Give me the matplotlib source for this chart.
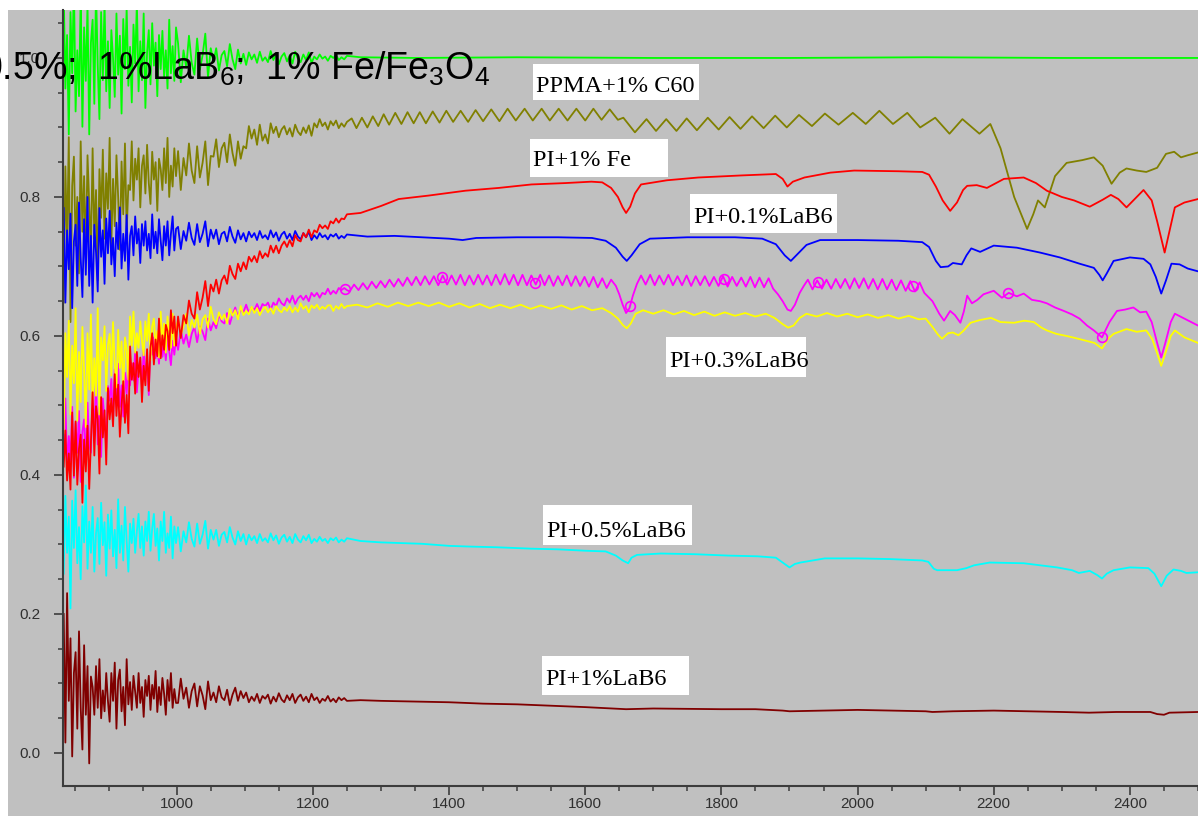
import numpy as np
import matplotlib
matplotlib.use("Agg")
import matplotlib.pyplot as plt
from matplotlib.patches import Rectangle
from matplotlib.ticker import MultipleLocator, FixedLocator, FormatStrFormatter

# ---------------------------------------------------------------- data
# Noisy start of every scan: segment A sampled every 2.5 nm, segment B every 4 nm
SEG_A = (834, 999)
SEG_B = (1002, 1250)

GREEN_A = [
    1.099, 0.956, 1.033, 0.890, 1.066, 0.978, 1.110, 0.923, 1.011, 0.945,
    1.088, 0.901, 1.044, 0.967, 1.077, 0.890, 1.022, 1.055, 0.934, 1.099,
    0.989, 0.912, 1.066, 0.968, 1.080, 0.952, 1.024, 0.928, 1.040, 1.000,
    0.944, 1.064, 0.976, 1.032, 0.920, 1.056, 0.984, 1.072, 0.960, 1.016,
    0.936, 1.048, 0.992, 1.080, 0.952, 1.024, 0.968, 1.064, 0.928, 1.008,
    1.040, 0.962, 1.050, 0.989, 1.022, 0.945, 1.033, 0.984, 1.039, 0.973,
    1.011, 0.956, 1.055, 0.978, 1.017, 0.967, 1.044]
GREEN_B = [
    1.021, 0.965, 1.011, 0.986, 1.032, 0.993, 0.976, 1.028, 0.983, 1.004,
    1.035, 0.972, 1.014, 0.994, 1.014, 0.982, 1.004, 1.010, 0.988, 1.020,
    0.998, 0.984, 1.012, 0.992, 1.006, 0.990, 1.008, 0.998, 1.005, 0.993,
    1.009, 0.996, 1.001, 0.994, 1.010, 0.997, 1.006, 0.991, 1.002, 1.007,
    0.995, 1.004, 0.992, 1.009, 0.999, 0.994, 1.005, 0.997, 1.008, 0.993,
    1.002, 0.998, 1.005, 0.999, 1.002, 0.996, 1.003, 1.000, 1.004, 0.997,
    1.001, 0.998, 1.003]
GREEN_TAIL = [(1270, 1.001), (1350, 1.0), (1500, 1.001), (1700, 1.0),
              (1900, 1.0), (2100, 1.001), (2300, 1.0), (2500, 1.0)]

OLIVE_A = [
    0.648, 0.844, 0.732, 0.886, 0.620, 0.816, 0.858, 0.730, 0.800, 0.690,
    0.880, 0.750, 0.830, 0.710, 0.860, 0.790, 0.720, 0.870, 0.740, 0.810,
    0.680, 0.840, 0.770, 0.868, 0.740, 0.834, 0.783, 0.885, 0.732, 0.826,
    0.758, 0.860, 0.800, 0.724, 0.851, 0.775, 0.877, 0.749, 0.817, 0.810,
    0.880, 0.795, 0.855, 0.825, 0.870, 0.785, 0.845, 0.860, 0.805, 0.875,
    0.820, 0.790, 0.865, 0.825, 0.850, 0.780, 0.855, 0.840, 0.810, 0.870,
    0.820, 0.885, 0.800, 0.845, 0.815, 0.870, 0.830]
OLIVE_B = [
    0.866, 0.810, 0.856, 0.831, 0.877, 0.838, 0.820, 0.873, 0.828, 0.849,
    0.880, 0.817, 0.859, 0.858, 0.883, 0.843, 0.870, 0.878, 0.850, 0.890,
    0.863, 0.845, 0.880, 0.855, 0.873, 0.870, 0.902, 0.884, 0.897, 0.875,
    0.904, 0.881, 0.890, 0.877, 0.906, 0.892, 0.901, 0.886, 0.897, 0.902,
    0.890, 0.899, 0.887, 0.904, 0.894, 0.889, 0.900, 0.892, 0.903, 0.888,
    0.906, 0.900, 0.912, 0.902, 0.907, 0.897, 0.909, 0.903, 0.910, 0.899,
    0.906, 0.901, 0.908]
OLIVE_TAIL = [
    (1257, 0.913), (1264, 0.899), (1272, 0.914), (1280, 0.900), (1288, 0.916),
    (1296, 0.902), (1304, 0.919), (1312, 0.904), (1321, 0.921), (1330, 0.905),
    (1339, 0.922), (1348, 0.906), (1357, 0.922), (1366, 0.906), (1376, 0.923),
    (1386, 0.907), (1396, 0.924), (1406, 0.908), (1417, 0.924), (1428, 0.908),
    (1439, 0.925), (1450, 0.909), (1462, 0.926), (1474, 0.909), (1486, 0.927),
    (1498, 0.910), (1511, 0.927), (1523, 0.910), (1536, 0.927), (1548, 0.910),
    (1561, 0.927), (1574, 0.910), (1587, 0.927), (1600, 0.910), (1612, 0.927),
    (1624, 0.911), (1636, 0.926), (1648, 0.911), (1656, 0.914), (1673, 0.893),
    (1690, 0.912), (1704, 0.895), (1719, 0.912), (1734, 0.895), (1749, 0.913),
    (1764, 0.896), (1780, 0.914), (1796, 0.897), (1812, 0.915), (1828, 0.898),
    (1845, 0.916), (1862, 0.899), (1879, 0.917), (1896, 0.900), (1914, 0.918),
    (1933, 0.902), (1952, 0.920), (1972, 0.904), (1993, 0.921), (2012, 0.905),
    (2032, 0.924), (2052, 0.905), (2073, 0.921), (2092, 0.900), (2114, 0.914),
    (2135, 0.891), (2154, 0.912), (2179, 0.891), (2195, 0.905), (2210, 0.870),
    (2230, 0.800), (2249, 0.754), (2258, 0.775), (2265, 0.795), (2275, 0.785),
    (2290, 0.830), (2307, 0.849), (2330, 0.853), (2347, 0.857), (2360, 0.845),
    (2373, 0.819), (2385, 0.835), (2395, 0.841), (2410, 0.838), (2424, 0.836),
    (2440, 0.842), (2453, 0.862), (2465, 0.865), (2475, 0.857), (2485, 0.860),
    (2500, 0.864)]

BLUE_A = [
    0.784, 0.648, 0.752, 0.696, 0.776, 0.640, 0.736, 0.760, 0.672, 0.792,
    0.712, 0.656, 0.768, 0.688, 0.800, 0.672, 0.744, 0.648, 0.760, 0.720,
    0.664, 0.784, 0.714, 0.752, 0.675, 0.769, 0.719, 0.780, 0.703, 0.741,
    0.686, 0.763, 0.725, 0.785, 0.697, 0.747, 0.708, 0.774, 0.681, 0.744,
    0.758, 0.716, 0.772, 0.733, 0.754, 0.705, 0.761, 0.730, 0.765, 0.723,
    0.747, 0.712, 0.775, 0.726, 0.750, 0.719, 0.768, 0.737, 0.709, 0.758,
    0.730, 0.765, 0.716, 0.747, 0.772, 0.723, 0.754]
BLUE_B = [
    0.757, 0.725, 0.751, 0.737, 0.763, 0.741, 0.731, 0.761, 0.735, 0.747,
    0.765, 0.729, 0.753, 0.740, 0.753, 0.732, 0.747, 0.750, 0.736, 0.757,
    0.743, 0.734, 0.752, 0.739, 0.748, 0.736, 0.750, 0.742, 0.748, 0.738,
    0.751, 0.741, 0.745, 0.739, 0.752, 0.742, 0.749, 0.737, 0.746, 0.750,
    0.740, 0.747, 0.738, 0.751, 0.743, 0.739, 0.748, 0.742, 0.750, 0.738,
    0.745, 0.740, 0.748, 0.742, 0.745, 0.739, 0.746, 0.743, 0.747, 0.740,
    0.744, 0.741, 0.746]
BLUE_TAIL = [
    (1280, 0.743), (1320, 0.744), (1360, 0.742), (1400, 0.740), (1420, 0.738),
    (1440, 0.741), (1500, 0.742), (1560, 0.742), (1610, 0.741), (1630, 0.737),
    (1645, 0.727), (1655, 0.714), (1661, 0.708), (1668, 0.716), (1680, 0.732),
    (1695, 0.740), (1750, 0.742), (1820, 0.742), (1860, 0.740), (1880, 0.732),
    (1893, 0.716), (1902, 0.708), (1910, 0.716), (1925, 0.731), (1945, 0.738),
    (2000, 0.738), (2060, 0.737), (2095, 0.735), (2105, 0.728), (2115, 0.708),
    (2122, 0.699), (2133, 0.700), (2140, 0.705), (2147, 0.704), (2153, 0.703),
    (2160, 0.716), (2167, 0.726), (2180, 0.721), (2200, 0.730), (2234, 0.727),
    (2268, 0.720), (2297, 0.713), (2326, 0.704), (2347, 0.698), (2355, 0.688),
    (2360, 0.680), (2366, 0.690), (2376, 0.708), (2400, 0.713), (2420, 0.711),
    (2430, 0.703), (2438, 0.685), (2446, 0.661), (2453, 0.680), (2461, 0.704),
    (2473, 0.703), (2485, 0.697), (2500, 0.693)]

RED_A = [
    0.412, 0.464, 0.392, 0.431, 0.379, 0.490, 0.399, 0.477, 0.386, 0.438,
    0.458, 0.360, 0.451, 0.405, 0.471, 0.380, 0.447, 0.519, 0.428, 0.499,
    0.480, 0.402, 0.512, 0.454, 0.493, 0.415, 0.525, 0.480, 0.510, 0.470,
    0.545, 0.485, 0.530, 0.455, 0.500, 0.535, 0.475, 0.515, 0.460, 0.585,
    0.537, 0.561, 0.517, 0.577, 0.541, 0.569, 0.505, 0.557, 0.529, 0.581,
    0.521, 0.583, 0.604, 0.559, 0.595, 0.571, 0.625, 0.568, 0.601, 0.580,
    0.616, 0.607, 0.580, 0.637, 0.604, 0.628, 0.586]
RED_B = [
    0.628, 0.597, 0.630, 0.618, 0.651, 0.632, 0.625, 0.663, 0.638, 0.655,
    0.679, 0.643, 0.674, 0.664, 0.681, 0.661, 0.680, 0.687, 0.675, 0.701,
    0.689, 0.682, 0.704, 0.693, 0.706, 0.696, 0.714, 0.707, 0.715, 0.706,
    0.722, 0.712, 0.719, 0.714, 0.730, 0.720, 0.730, 0.719, 0.730, 0.736,
    0.728, 0.738, 0.729, 0.745, 0.738, 0.736, 0.748, 0.742, 0.753, 0.742,
    0.752, 0.749, 0.760, 0.755, 0.759, 0.754, 0.765, 0.762, 0.769, 0.763,
    0.769, 0.768, 0.775]
RED_TAIL = [
    (1270, 0.777), (1300, 0.787), (1326, 0.797), (1370, 0.802), (1424, 0.809),
    (1473, 0.813), (1521, 0.818), (1571, 0.820), (1609, 0.822), (1625, 0.821),
    (1638, 0.813), (1648, 0.800), (1655, 0.785), (1660, 0.777), (1666, 0.786),
    (1673, 0.805), (1682, 0.818), (1720, 0.824), (1766, 0.828), (1830, 0.831),
    (1880, 0.833), (1890, 0.826), (1897, 0.815), (1905, 0.822), (1922, 0.828),
    (1960, 0.835), (1995, 0.838), (2060, 0.837), (2095, 0.836), (2105, 0.832),
    (2115, 0.815), (2125, 0.795), (2136, 0.780), (2146, 0.792), (2155, 0.810),
    (2161, 0.816), (2175, 0.817), (2190, 0.813), (2215, 0.826), (2244, 0.828),
    (2262, 0.820), (2278, 0.809), (2300, 0.800), (2318, 0.795), (2341, 0.786),
    (2360, 0.796), (2372, 0.803), (2383, 0.797), (2395, 0.785), (2410, 0.800),
    (2420, 0.810), (2432, 0.795), (2440, 0.765), (2451, 0.720), (2458, 0.750),
    (2466, 0.785), (2480, 0.792), (2500, 0.797)]

MAGENTA_A = [
    0.438, 0.510, 0.408, 0.456, 0.420, 0.498, 0.396, 0.474, 0.432, 0.492,
    0.390, 0.462, 0.480, 0.414, 0.504, 0.444, 0.432, 0.516, 0.456, 0.540,
    0.444, 0.498, 0.426, 0.510, 0.480, 0.438, 0.528, 0.507, 0.538, 0.475,
    0.552, 0.511, 0.560, 0.498, 0.529, 0.484, 0.547, 0.516, 0.565, 0.529,
    0.561, 0.536, 0.578, 0.519, 0.554, 0.568, 0.526, 0.582, 0.543, 0.564,
    0.515, 0.595, 0.573, 0.598, 0.568, 0.585, 0.560, 0.605, 0.570, 0.588,
    0.565, 0.600, 0.578, 0.558, 0.593, 0.573, 0.598]
MAGENTA_B = [
    0.580, 0.608, 0.589, 0.602, 0.584, 0.603, 0.613, 0.591, 0.614, 0.606,
    0.594, 0.625, 0.608, 0.620, 0.611, 0.631, 0.621, 0.618, 0.633, 0.617,
    0.631, 0.641, 0.627, 0.639, 0.634, 0.645, 0.633, 0.641, 0.637, 0.646,
    0.636, 0.646, 0.643, 0.648, 0.638, 0.648, 0.643, 0.654, 0.647, 0.644,
    0.654, 0.648, 0.658, 0.646, 0.654, 0.658, 0.652, 0.658, 0.650, 0.662,
    0.657, 0.662, 0.655, 0.662, 0.660, 0.668, 0.660, 0.665, 0.661, 0.669,
    0.666, 0.669, 0.666]
# interference fringes, evenly sampled between the given wavelengths
MAGENTA_FRINGE_1 = (1254, 1638, [
    0.664, 0.674, 0.666, 0.676, 0.667, 0.678, 0.669, 0.679, 0.670, 0.681,
    0.671, 0.682, 0.672, 0.684, 0.673, 0.685, 0.673, 0.686, 0.674, 0.686,
    0.673, 0.687, 0.674, 0.687, 0.674, 0.688, 0.673, 0.687, 0.674, 0.688,
    0.674, 0.687, 0.673, 0.688, 0.674, 0.689, 0.674, 0.688, 0.673, 0.688,
    0.673, 0.687, 0.674, 0.688, 0.673, 0.687, 0.672, 0.686, 0.673, 0.687,
    0.672, 0.686, 0.672, 0.685, 0.671, 0.685, 0.670, 0.683, 0.669, 0.681])
MAGENTA_DIP_1 = [(1645, 0.672), (1650, 0.660), (1655, 0.645), (1660, 0.633),
                 (1665, 0.640), (1670, 0.658), (1676, 0.675)]
MAGENTA_FRINGE_2 = (1682, 1876, [
    0.687, 0.674, 0.688, 0.673, 0.687, 0.674, 0.688, 0.673, 0.686, 0.673,
    0.687, 0.672, 0.686, 0.673, 0.686, 0.672, 0.685, 0.672, 0.686, 0.671,
    0.685, 0.672, 0.684, 0.671, 0.685, 0.670, 0.684, 0.670, 0.683, 0.668])
MAGENTA_DIP_2 = [(1883, 0.660), (1890, 0.650), (1897, 0.638), (1902, 0.636),
                 (1908, 0.645), (1915, 0.662), (1921, 0.672)]
MAGENTA_FRINGE_3 = (1927, 2098, [
    0.681, 0.667, 0.680, 0.668, 0.681, 0.668, 0.682, 0.669, 0.682, 0.668,
    0.683, 0.669, 0.683, 0.668, 0.682, 0.667, 0.682, 0.667, 0.681, 0.666,
    0.680, 0.665, 0.679, 0.664, 0.677, 0.662])
MAGENTA_TAIL = [
    (2110, 0.650), (2120, 0.632), (2127, 0.622), (2136, 0.636), (2143, 0.630),
    (2151, 0.619), (2156, 0.635), (2161, 0.658), (2168, 0.647), (2176, 0.652),
    (2185, 0.660), (2200, 0.665), (2212, 0.655), (2222, 0.662), (2234, 0.657),
    (2244, 0.661), (2256, 0.652), (2268, 0.650), (2278, 0.647), (2290, 0.641),
    (2303, 0.636), (2315, 0.631), (2326, 0.625), (2337, 0.615), (2347, 0.608),
    (2359, 0.598), (2370, 0.620), (2381, 0.636), (2393, 0.638), (2405, 0.641),
    (2415, 0.634), (2424, 0.635), (2432, 0.620), (2440, 0.590), (2446, 0.569),
    (2452, 0.590), (2460, 0.620), (2466, 0.632), (2480, 0.625), (2500, 0.615)]
MAGENTA_MARKER_X = [1247, 1390, 1526, 1666, 1804, 1942, 2081, 2221, 2359]

YELLOW_A = [
    0.460, 0.604, 0.541, 0.622, 0.487, 0.586, 0.532, 0.640, 0.478, 0.577,
    0.505, 0.613, 0.550, 0.469, 0.604, 0.523, 0.631, 0.496, 0.568, 0.514,
    0.640, 0.487, 0.598, 0.565, 0.614, 0.521, 0.587, 0.603, 0.543, 0.620,
    0.559, 0.526, 0.609, 0.554, 0.592, 0.515, 0.598, 0.581, 0.537, 0.628,
    0.586, 0.635, 0.576, 0.604, 0.583, 0.621, 0.593, 0.572, 0.621, 0.593,
    0.632, 0.565, 0.614, 0.625, 0.583, 0.607, 0.569, 0.635, 0.590, 0.618,
    0.576, 0.628, 0.604, 0.583, 0.632, 0.586, 0.611]
YELLOW_B = [
    0.624, 0.602, 0.614, 0.632, 0.601, 0.623, 0.612, 0.631, 0.603, 0.624,
    0.630, 0.612, 0.642, 0.624, 0.617, 0.634, 0.624, 0.631, 0.618, 0.639,
    0.629, 0.637, 0.624, 0.643, 0.630, 0.636, 0.631, 0.642, 0.633, 0.640,
    0.630, 0.637, 0.642, 0.634, 0.640, 0.632, 0.643, 0.637, 0.634, 0.641,
    0.636, 0.643, 0.634, 0.641, 0.635, 0.647, 0.639, 0.643, 0.634, 0.644,
    0.640, 0.645, 0.638, 0.642, 0.639, 0.644, 0.644, 0.636, 0.643, 0.639,
    0.646, 0.640, 0.643]
YELLOW_TAIL = [
    (1265, 0.645), (1280, 0.641), (1295, 0.647), (1310, 0.642), (1325, 0.648),
    (1340, 0.643), (1355, 0.648), (1370, 0.643), (1385, 0.648), (1400, 0.642),
    (1415, 0.647), (1430, 0.641), (1445, 0.646), (1460, 0.640), (1475, 0.645),
    (1490, 0.640), (1505, 0.645), (1520, 0.639), (1535, 0.644), (1550, 0.639),
    (1565, 0.644), (1580, 0.638), (1595, 0.643), (1610, 0.637), (1625, 0.640),
    (1638, 0.633), (1648, 0.625), (1655, 0.616), (1661, 0.611), (1667, 0.618),
    (1674, 0.632), (1685, 0.637), (1700, 0.632), (1715, 0.637), (1730, 0.631),
    (1745, 0.636), (1760, 0.630), (1775, 0.635), (1790, 0.629), (1805, 0.634),
    (1820, 0.629), (1835, 0.633), (1850, 0.628), (1865, 0.632), (1878, 0.626),
    (1890, 0.617), (1898, 0.612), (1906, 0.615), (1915, 0.626), (1925, 0.632),
    (1940, 0.628), (1955, 0.633), (1970, 0.628), (1985, 0.632), (2000, 0.627),
    (2015, 0.631), (2030, 0.626), (2045, 0.630), (2060, 0.625), (2075, 0.629),
    (2090, 0.624), (2100, 0.625), (2110, 0.613), (2118, 0.602), (2124, 0.596),
    (2133, 0.604), (2140, 0.605), (2148, 0.601), (2155, 0.607), (2166, 0.619),
    (2180, 0.623), (2196, 0.626), (2210, 0.620), (2230, 0.619), (2245, 0.622),
    (2259, 0.620), (2270, 0.612), (2278, 0.608), (2292, 0.603), (2307, 0.600),
    (2320, 0.597), (2336, 0.593), (2348, 0.590), (2359, 0.582), (2368, 0.596),
    (2376, 0.603), (2395, 0.610), (2410, 0.606), (2424, 0.608), (2433, 0.595),
    (2440, 0.575), (2446, 0.557), (2453, 0.578), (2460, 0.600), (2466, 0.608),
    (2480, 0.598), (2500, 0.590)]

CYAN_A = [
    0.258, 0.370, 0.288, 0.340, 0.208, 0.363, 0.295, 0.378, 0.273, 0.325,
    0.250, 0.355, 0.303, 0.385, 0.265, 0.333, 0.288, 0.354, 0.261, 0.316,
    0.338, 0.272, 0.360, 0.299, 0.332, 0.255, 0.343, 0.294, 0.349, 0.283,
    0.321, 0.266, 0.365, 0.288, 0.327, 0.277, 0.354, 0.305, 0.261, 0.330,
    0.302, 0.337, 0.288, 0.319, 0.344, 0.295, 0.326, 0.284, 0.333, 0.305,
    0.347, 0.291, 0.323, 0.344, 0.298, 0.323, 0.277, 0.333, 0.305, 0.347,
    0.288, 0.316, 0.295, 0.340, 0.280, 0.326, 0.302]
CYAN_B = [
    0.325, 0.290, 0.319, 0.303, 0.332, 0.308, 0.297, 0.330, 0.301, 0.314,
    0.334, 0.294, 0.321, 0.307, 0.321, 0.298, 0.314, 0.318, 0.303, 0.325,
    0.310, 0.300, 0.319, 0.305, 0.315, 0.300, 0.314, 0.306, 0.312, 0.302,
    0.315, 0.305, 0.309, 0.303, 0.316, 0.306, 0.313, 0.301, 0.310, 0.314,
    0.304, 0.311, 0.302, 0.315, 0.307, 0.303, 0.312, 0.306, 0.314, 0.302,
    0.308, 0.304, 0.311, 0.305, 0.308, 0.302, 0.309, 0.306, 0.310, 0.303,
    0.307, 0.304, 0.309]
CYAN_TAIL = [
    (1270, 0.305), (1300, 0.303), (1330, 0.302), (1360, 0.301), (1400, 0.298),
    (1430, 0.297), (1470, 0.296), (1520, 0.294), (1560, 0.293), (1600, 0.291),
    (1630, 0.290), (1645, 0.284), (1655, 0.277), (1663, 0.273), (1668, 0.281),
    (1676, 0.285), (1711, 0.287), (1761, 0.286), (1810, 0.284), (1853, 0.283),
    (1880, 0.281), (1893, 0.272), (1900, 0.267), (1908, 0.272), (1916, 0.274),
    (1952, 0.280), (2000, 0.280), (2048, 0.279), (2095, 0.277), (2104, 0.275),
    (2112, 0.265), (2117, 0.263), (2146, 0.263), (2160, 0.266), (2171, 0.270),
    (2194, 0.274), (2244, 0.273), (2293, 0.267), (2315, 0.263), (2325, 0.259),
    (2341, 0.262), (2352, 0.256), (2359, 0.251), (2366, 0.258), (2376, 0.263),
    (2400, 0.267), (2427, 0.266), (2436, 0.258), (2446, 0.240), (2454, 0.255),
    (2464, 0.264), (2475, 0.262), (2483, 0.259), (2500, 0.260)]

BROWN_A = [
    0.200, 0.015, 0.230, 0.075, 0.165, -0.005, 0.115, 0.145, 0.035, 0.175,
    0.065, 0.005, 0.155, 0.055, 0.125, -0.015, 0.110, 0.095, 0.055, 0.125,
    0.065, 0.135, 0.050, 0.090, 0.060, 0.115, 0.075, 0.045, 0.115, 0.075,
    0.130, 0.035, 0.105, 0.120, 0.060, 0.095, 0.040, 0.135, 0.070, 0.102,
    0.062, 0.111, 0.088, 0.065, 0.115, 0.072, 0.095, 0.052, 0.105, 0.082,
    0.111, 0.062, 0.098, 0.078, 0.118, 0.059, 0.095, 0.069, 0.108, 0.085,
    0.055, 0.105, 0.075, 0.115, 0.065, 0.092, 0.072]
BROWN_B = [
    0.072, 0.107, 0.078, 0.094, 0.065, 0.089, 0.100, 0.067, 0.096, 0.083,
    0.063, 0.103, 0.076, 0.087, 0.073, 0.096, 0.080, 0.076, 0.091, 0.069,
    0.084, 0.094, 0.075, 0.089, 0.079, 0.087, 0.073, 0.081, 0.075, 0.085,
    0.072, 0.082, 0.078, 0.084, 0.071, 0.081, 0.074, 0.086, 0.077, 0.073,
    0.083, 0.076, 0.085, 0.072, 0.080, 0.084, 0.075, 0.081, 0.073, 0.085,
    0.076, 0.080, 0.072, 0.078, 0.075, 0.082, 0.074, 0.078, 0.073, 0.080,
    0.076, 0.079, 0.075]
BROWN_TAIL = [
    (1270, 0.076), (1300, 0.075), (1350, 0.074), (1400, 0.073), (1450, 0.071),
    (1500, 0.070), (1550, 0.068), (1600, 0.066), (1640, 0.064), (1660, 0.063),
    (1700, 0.064), (1800, 0.063), (1850, 0.063), (1890, 0.061), (1900, 0.060),
    (1950, 0.061), (2000, 0.062), (2100, 0.060), (2110, 0.059), (2140, 0.060),
    (2200, 0.061), (2300, 0.059), (2340, 0.058), (2380, 0.059), (2430, 0.059),
    (2440, 0.056), (2450, 0.055), (2458, 0.058), (2500, 0.059)]

X_TICKS = [1000, 1200, 1400, 1600, 1800, 2000, 2200, 2400]
Y_TICKS = [0.0, 0.2, 0.4, 0.6, 0.8, 1.0]

TITLE = "0.5%;  1%LaB$_6$;  1% Fe/Fe$_3$O$_4$"
LABELS = ["PPMA+1% C60", "PI+1% Fe", "PI+0.1%LaB6",
          "PI+0.3%LaB6", "PI+0.5%LaB6", "PI+1%LaB6"]


# ---------------------------------------------------------------- helpers
def dense(x0, x1, ys):
    return np.linspace(x0, x1, len(ys)), np.asarray(ys, float)


def pairs(pts):
    a = np.asarray(pts, float)
    return a[:, 0], a[:, 1]


def join(*segments):
    xs = np.concatenate([s[0] for s in segments])
    ys = np.concatenate([s[1] for s in segments])
    return xs, ys


def scan(seg_a, seg_b, *rest):
    return join(dense(*SEG_A, seg_a), dense(*SEG_B, seg_b), *rest)


green = scan(GREEN_A, GREEN_B, pairs(GREEN_TAIL))
olive = scan(OLIVE_A, OLIVE_B, pairs(OLIVE_TAIL))
blue = scan(BLUE_A, BLUE_B, pairs(BLUE_TAIL))
red = scan(RED_A, RED_B, pairs(RED_TAIL))
magenta = scan(MAGENTA_A, MAGENTA_B, dense(*MAGENTA_FRINGE_1), pairs(MAGENTA_DIP_1),
               dense(*MAGENTA_FRINGE_2), pairs(MAGENTA_DIP_2),
               dense(*MAGENTA_FRINGE_3), pairs(MAGENTA_TAIL))
yellow = scan(YELLOW_A, YELLOW_B, pairs(YELLOW_TAIL))
cyan = scan(CYAN_A, CYAN_B, pairs(CYAN_TAIL))
brown = scan(BROWN_A, BROWN_B, pairs(BROWN_TAIL))

# ---------------------------------------------------------------- figure
plt.rcParams["font.family"] = ["Liberation Sans Narrow", "DejaVu Sans Condensed",
                               "Liberation Sans", "DejaVu Sans"]
plt.rcParams["mathtext.fontset"] = "custom"
plt.rcParams["mathtext.rm"] = "Liberation Sans"
plt.rcParams["mathtext.it"] = "Liberation Sans"
plt.rcParams["mathtext.bf"] = "Liberation Sans:bold"

W, H = 1198, 816
fig = plt.figure(figsize=(W / 100, H / 100), dpi=100, facecolor="white")


def fx(px):
    return px / W


def fy(py):
    return 1 - py / H


GRAY = "#C0C0C0"
fig.add_artist(Rectangle((fx(8), 0), 1 - fx(8), fy(10), transform=fig.transFigure,
                         facecolor=GRAY, edgecolor="none", zorder=-10))

ax = fig.add_axes([fx(63), fy(786), fx(1198) - fx(63), fy(10) - fy(786)])
ax.set_facecolor(GRAY)

LW = 1.3
series = [(green, "#00FF00"), (olive, "#808000"), (blue, "#0000FF"),
          (magenta, "#FF00FF"), (yellow, "#FFFF00"), (red, "#FF0000"),
          (cyan, "#00FFFF"), (brown, "#800000")]
for (xs, ys), col in series:
    ax.plot(xs, ys, color=col, lw=LW)

mx = np.asarray(MAGENTA_MARKER_X, float)
ax.plot(mx, np.interp(mx, magenta[0], magenta[1]), "o", ms=7, mfc="none",
        mec="#FF00FF", mew=1.2)

ax.set_xlim(833, 2500)
ax.set_ylim(-0.0475, 1.069)

ax.xaxis.set_major_locator(FixedLocator(X_TICKS))
ax.xaxis.set_minor_locator(MultipleLocator(50))
ax.yaxis.set_major_locator(FixedLocator(Y_TICKS))
ax.yaxis.set_minor_locator(MultipleLocator(0.05))
ax.xaxis.set_major_formatter(FormatStrFormatter("%d"))
ax.yaxis.set_major_formatter(FormatStrFormatter("%.1f"))

SPINE = "#3c3c3c"
for side in ("top", "right"):
    ax.spines[side].set_visible(False)
for side in ("left", "bottom"):
    ax.spines[side].set_color(SPINE)
    ax.spines[side].set_linewidth(1.5)

ax.tick_params(which="major", length=6.5, width=1.2, color=SPINE,
               labelsize=11, labelcolor="#303030")
ax.tick_params(which="minor", length=3.5, width=1.1, color=SPINE)
ax.tick_params(axis="y", which="major", pad=10)
ax.tick_params(axis="x", which="major", pad=1.5)

# heading across the top left
fig.text(fx(490), fy(80), TITLE, ha="right", va="baseline", fontsize=27,
         family=["Liberation Sans", "DejaVu Sans"], color="black", zorder=8)

# white caption boxes: (left, top, right, bottom, text baseline) in pixels
BOXES = [(533, 64, 699, 100, 92), (530, 139, 668, 177, 166),
         (690, 194, 837, 233, 223), (666, 337, 806, 377, 367),
         (543, 505, 692, 545, 537), (542, 656, 689, 695, 685)]
for label, (l, t, r, b, base) in zip(LABELS, BOXES):
    fig.add_artist(Rectangle((fx(l), fy(b)), fx(r) - fx(l), fy(t) - fy(b),
                             transform=fig.transFigure, facecolor="white",
                             edgecolor="none", zorder=6))
    fig.text(fx(l + 3), fy(base), label, ha="left", va="baseline",
             fontsize=17.5, family=["Liberation Serif", "DejaVu Serif"],
             color="black", zorder=7)

fig.savefig("out.png", dpi=100, facecolor="white")
